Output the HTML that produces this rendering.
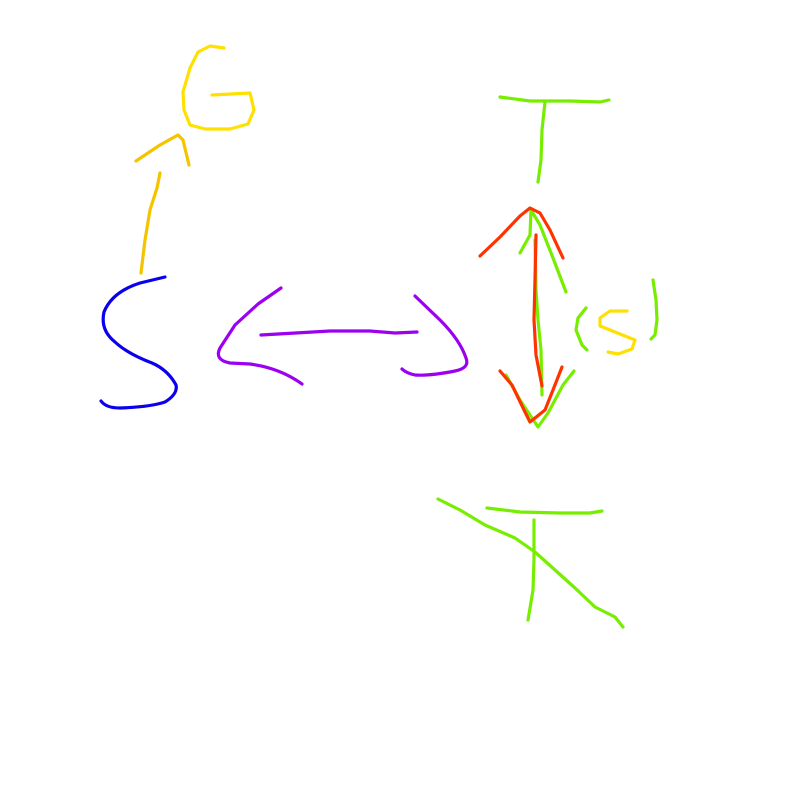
<!DOCTYPE html>
<html><head><meta charset="utf-8"><style>
html,body{margin:0;padding:0;background:#fff;}
svg{display:block;}
path{fill:none;stroke-width:3.2;stroke-linecap:round;stroke-linejoin:round;}
</style></head><body>
<svg width="787" height="787" viewBox="0 0 787 787" xmlns="http://www.w3.org/2000/svg">
<path stroke="#ffe000" d="M224,48 L210,46 L198,52 L190,68 L183,92 L184,110 L190,125 L205,129 L230,129 L248,124 L254,110 L250,93 L212,95"/>
<path stroke="#f5c400" d="M136,161 L160,145 L178,135 L183,140 L189,165"/>
<path stroke="#f5c400" d="M160,173 L157,188 L150,210 L145,240 L141,273"/>
<path stroke="#0a00ee" d="M165,277 L140,283 Q112,292 104,312 Q100,330 115,342 Q128,354 152,363 Q168,370 176,385 Q178,394 165,402 Q150,407 120,408 Q106,408 101,401"/>
<path stroke="#9b00f0" d="M281,288 L258,304 L235,325 L220,348 Q214,360 230,363 L250,364 Q280,368 302,384"/>
<path stroke="#9b00f0" d="M261,335 L330,331 L370,331 L395,333 L417,332"/>
<path stroke="#9b00f0" d="M415,296 L440,320 Q460,340 466,358 Q470,368 455,371 Q430,376 415,375 Q406,373 402,369"/>
<path stroke="#77ee00" d="M500,97 L530,101 L570,101 L600,102 L609,100"/>
<path stroke="#77ee00" d="M545,102 L542,130 L541,160 L538,182"/>
<path stroke="#77ee00" d="M520,253 L530,235 L531,210 L540,225 L553,258 L566,292"/>
<path stroke="#77ee00" d="M535,240 L536,290 L538,320 L541,350 L542,395"/>
<path stroke="#77ee00" d="M506,375 L520,400 L538,427 L548,413 L563,385 L574,371"/>
<path stroke="#ff3300" d="M480,256 L500,237 L520,216 L530,208 L540,213 L550,230 L563,258"/>
<path stroke="#ff3300" d="M536,235 L535,280 L534,320 L536,355 L542,386"/>
<path stroke="#ff3300" d="M500,371 L512,385 L525,412 L530,422 L545,410 L553,390 L562,367"/>
<path stroke="#77ee00" d="M586,308 L578,318 L576,330 L582,345 L587,350"/>
<path stroke="#77ee00" d="M653,280 L656,300 L657,320 L655,335 L651,339"/>
<path stroke="#ffe000" d="M627,311 L610,311 L600,318 L600,326 L615,332 L635,340 L632,349 L618,354 L608,352"/>
<path stroke="#77ee00" d="M438,499 L460,510 L485,525 L515,538 L535,552 L555,570 L575,588 L595,607 L615,617 L623,627"/>
<path stroke="#77ee00" d="M487,508 L520,512 L560,513 L590,513 L602,511"/>
<path stroke="#77ee00" d="M534,520 L534,560 L533,590 L528,620"/>
</svg>
</body></html>
